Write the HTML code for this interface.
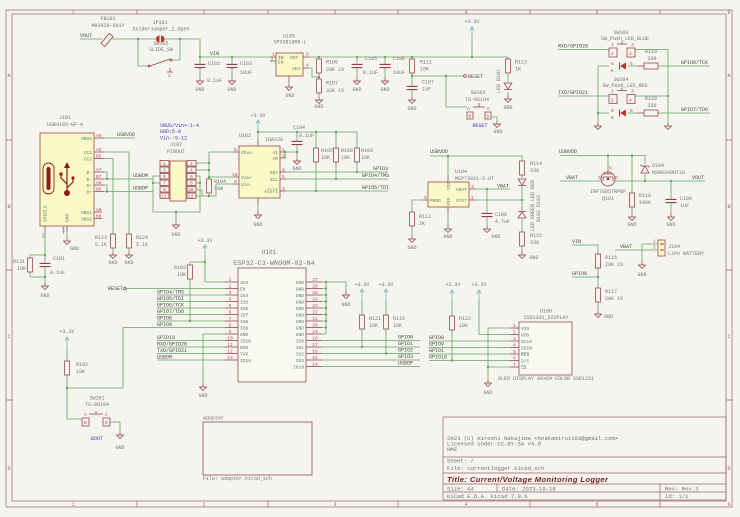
<!DOCTYPE html>
<html><head><meta charset="utf-8">
<style>
html,body{margin:0;padding:0;background:#f5f4ef}
svg{display:block}
.w{fill:none;stroke:#62a662;stroke-width:.8}
.s{fill:none;stroke:#934040;stroke-width:.75}
.b{fill:#fcf9c6;stroke:#934040;stroke-width:.75}
.bw{fill:#faf9f0;stroke:#934040;stroke-width:.75}
.fr{fill:none;stroke:#9e6262;stroke-width:.7}
text{font-family:"Liberation Mono",monospace;font-size:5px;fill:#767676}
.l{fill:#4a4a4a}
.n{fill:#bb4c4c;font-size:4.6px}
.m{fill:#567a7a;font-size:4.6px}
.bl{fill:#4040b8}
.ft{fill:#9e6262}
.t{text-anchor:middle}
.e{text-anchor:end}
.j{fill:#62a662}
.tb{font-size:5.6px;fill:#707070}
</style></head><body>
<svg width="740" height="517" viewBox="0 0 740 517" xmlns="http://www.w3.org/2000/svg">
<defs>
<g id="r"><rect x="-2.5" y="-7" width="5" height="14" class="s"/></g>
<g id="rh"><rect x="-7" y="-3" width="14" height="6" class="s"/></g>
<g id="c"><path d="M-5.5 -1.6H5.5M-5.5 1.6H5.5" fill="none" stroke="#934040" stroke-width="1.1"/></g>
<g id="g"><path d="M0 0V3M-3.5 3H3.5L0 6.5Z" class="s"/></g>
<g id="p"><path d="M0 0V10M-2.2 3.5L0 0L2.2 3.5" fill="none" stroke="#76b4b4" stroke-width=".8"/></g>
</defs>
<rect width="740" height="517" fill="#f5f4ef"/>

<!-- frame -->
<rect x="6" y="10" width="726" height="497" class="fr"/>
<rect x="12" y="14" width="714" height="487" class="fr"/>
<path class="fr" d="M137 10V14M268 10V14M398 10V14M530 10V14M660 10V14M137 501V507M268 501V507M398 501V507M530 501V507M660 501V507M6 140H12M6 270H12M6 400H12M726 140H732M726 270H732M726 400H732"/>
<g class="ft t">
<text class="ft t" x="73" y="14">1</text><text class="ft t" x="204" y="14">2</text><text class="ft t" x="335" y="14">3</text><text class="ft t" x="466" y="14">4</text><text class="ft t" x="597" y="14">5</text><text class="ft t" x="729" y="14">6</text>
<text class="ft t" x="73" y="506">1</text><text class="ft t" x="204" y="506">2</text><text class="ft t" x="335" y="506">3</text><text class="ft t" x="466" y="506">4</text><text class="ft t" x="597" y="506">5</text><text class="ft t" x="729" y="506">6</text>
<text class="ft t" x="9" y="77">A</text><text class="ft t" x="9" y="208">B</text><text class="ft t" x="9" y="338">C</text><text class="ft t" x="9" y="470">D</text>
<text class="ft t" x="729" y="77">A</text><text class="ft t" x="729" y="208">B</text><text class="ft t" x="729" y="338">C</text><text class="ft t" x="729" y="470">D</text>
</g>

<!-- ===== input / VIN ===== -->
<text class="t" x="108" y="20">FB101</text>
<text class="t" x="108" y="27">MH2029-601Y</text>
<text class="l" x="80" y="37">VOUT</text>
<path class="w" d="M80 39H102M112 39H156M164 39H200V57H270M138 39V66H149M180 39V60H171"/>
<rect x="-2.5" y="-6.5" width="5" height="13" class="s" transform="translate(107,40) rotate(40)"/>
<path d="M159.5 35.5A3.5 3.5 0 0 0 159.5 42.5Z" fill="#c23030"/>
<path d="M161 35.5A3.5 3.5 0 0 1 161 42.5Z" fill="#c23030"/>
<text class="t" x="160" y="24">JP101</text>
<text class="t" x="161" y="30.5">SolderJumper_2_Open</text>
<text class="t" x="161" y="45">SW105</text>
<text class="t" x="161" y="51">SLIDE_SW</text>
<path class="s" d="M150 66L170 59M170 68V72M167 72H173"/>
<circle cx="149" cy="66" r="1" class="s"/><circle cx="171" cy="60" r="1" class="s"/>
<text class="n" x="168" y="77">2</text>
<circle class="j" cx="138" cy="39" r="1.2"/><circle class="j" cx="180" cy="39" r="1.2"/>

<text class="l" x="210" y="55">VIN</text>
<path class="w" d="M200 57V64.4M200 67.6V78M232 57V64.4M232 67.6V78"/>
<use href="#c" x="200" y="66"/><use href="#c" x="232" y="66"/>
<use href="#g" x="200" y="78"/><use href="#g" x="232" y="78"/>
<circle class="j" cx="200" cy="57" r="1.2"/><circle class="j" cx="232" cy="57" r="1.2"/>
<text x="208" y="65">C102</text><text x="207" y="82">0.1uF</text><text class="t" x="200" y="91">GND</text>
<text x="240" y="65">C103</text><text x="240" y="74">10uF</text><text class="t" x="232" y="91">GND</text>

<!-- U105 -->
<text class="t" x="289" y="37.5">U105</text>
<text class="t" x="290" y="43.5">SPX3819M5-L</text>
<rect x="276" y="53" width="27" height="23" class="b"/>
<path class="s" d="M270 57H276M270 61H276M303 57H309M303 68H309M289 76V82"/>
<text class="m" x="278" y="59">IN</text><text class="m" x="278" y="63.5">EN</text>
<text class="m" x="290" y="59">OUT</text><text class="m" x="292" y="70">ADJ</text>
<text class="n" x="272" y="55.5">1</text><text class="n" x="306" y="55.5">5</text><text class="n" x="306" y="66.5">4</text>
<path class="w" d="M272 57V61H276M309 68H312V77H319"/>
<use href="#g" x="289" y="84"/><path class="w" d="M289 82V84"/>
<text class="t" x="290" y="97">GND</text>

<path class="w" d="M309 57H508"/>
<!-- R106/R107 -->
<path class="w" d="M319 57V59M319 73V79M319 93V97"/>
<use href="#r" x="319" y="66"/><use href="#r" x="319" y="86"/>
<use href="#g" x="319" y="97"/>
<circle class="j" cx="319" cy="57" r="1.2"/><circle class="j" cx="319" cy="77" r="1.2"/>
<text x="326" y="63.5">R106</text><text x="326" y="71">20K 1%</text>
<text x="326" y="84.5">R107</text><text x="326" y="92">32K 1%</text>
<text class="t" x="319" y="108">GND</text>
<!-- C105 / C106 -->
<path class="w" d="M357 57V64.4M357 67.6V78M385 57V64.4M385 67.6V78"/>
<use href="#c" x="357" y="66"/><use href="#c" x="385" y="66"/>
<use href="#g" x="357" y="78"/><use href="#g" x="385" y="78"/>
<circle class="j" cx="357" cy="57" r="1.2"/><circle class="j" cx="385" cy="57" r="1.2"/>
<text x="365" y="60">C105</text><text x="363" y="74">0.1uF</text><text class="t" x="357" y="91">GND</text>
<text x="393" y="60">C106</text><text x="393" y="74">10uF</text><text class="t" x="385" y="91">GND</text>
<!-- R111 / C107 / reset -->
<path class="w" d="M412 57V59M412 73V86.4M412 89.6V97M412 76H463M446 76V107H467"/>
<use href="#r" x="412" y="66"/><use href="#c" x="412" y="88"/><use href="#g" x="412" y="97"/>
<circle class="j" cx="412" cy="57" r="1.2"/><circle class="j" cx="412" cy="76" r="1.2"/><circle class="j" cx="446" cy="76" r="1.2"/>
<text x="420" y="63.5">R111</text><text x="420" y="70.5">10K</text>
<text x="422" y="83.5">C107</text><text x="422" y="90.5">1uF</text>
<text class="t" x="412" y="110">GND</text>
<circle cx="465" cy="76" r="1.4" class="s"/>
<text class="l" x="468" y="78">RESET</text>
<!-- +3.3V top -->
<text class="t" x="472" y="23">+3.3V</text>
<use href="#p" x="472" y="27"/>
<path class="w" d="M472 37V57"/>
<circle class="j" cx="472" cy="57" r="1.2"/>
<!-- R113 / D101 -->
<path class="w" d="M508 57V59M508 73V82M508 92V96"/>
<use href="#r" x="508" y="66"/>
<path class="s" d="M504 83H512L508 89ZM504 89.5H512"/>
<use href="#g" x="508" y="96"/>
<text x="515" y="63.5">R113</text><text x="515" y="70.5">1K</text>
<text transform="translate(500,93) rotate(-90)">LED D101</text>
<text class="t" x="508" y="109">GND</text>
<!-- SW102 -->
<text class="t" x="478" y="94">SW102</text>
<text class="t" x="477" y="101">TS-06104</text>
<rect x="467" y="112" width="6" height="7" class="s"/><rect x="485" y="112" width="6" height="7" class="s"/>
<text class="n" x="468.5" y="117.5">B</text><text class="n" x="486.5" y="117.5">D</text>
<text class="n" x="467" y="110">A</text><text class="n" x="487" y="110">C</text>
<path class="s" d="M473 107H485M479 103V107"/>
<path class="w" d="M491 117H497V121"/>
<use href="#g" x="497" y="121"/>
<text class="t" x="498" y="133">GND</text>
<text class="bl t" x="480" y="127">RESET</text>

<!-- ===== top right SW103 / SW104 ===== -->
<text class="t" x="621" y="34">SW103</text>
<text class="t" x="625" y="40">SW_Push_LED_BLUE</text>
<text class="l" x="558" y="47.5">RXD/GPIO20</text>
<path class="w" d="M558 49.5H609M635 49.5H668V123M598 66H609M628 66H637M658 66H710M598 66V123"/>
<rect x="609" y="48" width="8" height="9" class="s"/><rect x="627" y="48" width="8" height="9" class="s"/>
<text class="n" x="611" y="55">2</text><text class="n" x="629" y="55">4</text>
<text class="n" x="611" y="46">1</text><text class="n" x="631" y="46">3</text>
<path class="s" d="M617 44H627M622 41V44M637 66H644"/>
<text class="n" x="611" y="65">6</text><text class="n" x="630" y="65">5</text>
<polygon points="626,62.5 626,69.5 620,66" fill="#c83030"/><path d="M619.5 62.5V69.5" stroke="#c83030" stroke-width="1"/>
<text class="n" x="611" y="72">K</text>
<use href="#rh" x="651" y="66"/>
<text class="t" x="651" y="53">R119</text><text class="t" x="652" y="60">330</text>
<text class="l" x="681" y="64">GPIO6/TCK</text>

<text class="t" x="621" y="81">SW104</text>
<text class="t" x="625" y="87">SW_Push_LED_RED</text>
<text class="l" x="558" y="94">TXD/GPIO21</text>
<path class="w" d="M558 96H609M635 96H668M598 113H609M628 113H637M658 113H710"/>
<rect x="609" y="94.5" width="8" height="9" class="s"/><rect x="627" y="94.5" width="8" height="9" class="s"/>
<text class="n" x="611" y="101.5">2</text><text class="n" x="629" y="101.5">4</text>
<text class="n" x="611" y="92.5">1</text><text class="n" x="631" y="92.5">3</text>
<path class="s" d="M617 90.5H627M622 87.5V90.5M637 113H644"/>
<text class="n" x="611" y="112">6</text><text class="n" x="630" y="112">5</text>
<polygon points="626,109.5 626,116.5 620,113" fill="#c83030"/><path d="M619.5 109.5V116.5" stroke="#c83030" stroke-width="1"/>
<text class="n" x="611" y="119">K</text>
<use href="#rh" x="651" y="113"/>
<text class="t" x="651" y="100">R120</text><text class="t" x="652" y="107">330</text>
<text class="l" x="681" y="111">GPIO7/TDO</text>
<circle class="j" cx="668" cy="96" r="1.2"/><circle class="j" cx="598" cy="113" r="1.2"/>
<use href="#g" x="598" y="123"/><use href="#g" x="668" y="123"/>

<!-- ===== J101 USB-C ===== -->
<text class="t" x="65" y="119">J101</text>
<text class="t" x="65" y="126">USB4105-GF-A</text>
<rect x="40" y="133" width="54" height="93" class="b"/>
<path class="s" d="M94 138H104M94 152H104M94 158.5H104M94 172H104M94 179H104M94 185H104M94 191.5H104M94 212H102M94 218.5H102M45 226V232M67 226V232"/>
<g class="m">
<text class="m e" x="92" y="140">VBUS</text><text class="m e" x="92" y="154">CC1</text><text class="m e" x="92" y="160.5">CC2</text>
<text class="m e" x="92" y="174">D-</text><text class="m e" x="92" y="181">D-</text><text class="m e" x="92" y="187">D+</text><text class="m e" x="92" y="193.5">D+</text>
<text class="m e" x="92" y="214">SBU1</text><text class="m e" x="92" y="220.5">SBU2</text>
</g>
<text class="n" x="96" y="137">A9</text><text class="n" x="96" y="151">A5</text><text class="n" x="96" y="157.5">B5</text>
<text class="n" x="96" y="171">A7</text><text class="n" x="96" y="178">B7</text><text class="n" x="96" y="184">A6</text><text class="n" x="96" y="190.5">B6</text>
<text class="n" x="96" y="211">A8</text><text class="n" x="96" y="217.5">B8</text>
<rect x="43" y="163" width="11" height="31" rx="5.5" fill="none" stroke="#8c2020" stroke-width=".9"/>
<rect x="46.5" y="167" width="4" height="23" rx="2" fill="#8c1a1a"/>
<path d="M67 167V191M67 184L61 178V175M67 188L73 182V179" fill="none" stroke="#8c1a1a" stroke-width="1.2"/>
<polygon points="67,162 64,168 70,168" fill="#8c1a1a"/>
<rect x="59.5" y="172.5" width="3" height="3" fill="#8c1a1a"/>
<circle cx="73" cy="178" r="1.6" fill="#8c1a1a"/>
<circle cx="67" cy="193" r="3" fill="#8c1a1a"/>
<text transform="translate(46.5,222) rotate(-90)" class="m">SHIELD</text>
<text transform="translate(68.5,222) rotate(-90)" class="m">GND</text>
<text transform="translate(45,238) rotate(-90)" class="n">S1</text>
<path d="M62 228H65M62 231H65M63.5 227V234" stroke="#5a6ab0" stroke-width=".6"/>
<path class="w" d="M104 138H135M104 152H129V234M104 158.5H113V234M104 172H107V179M104 179H153M104 185H107V191.5M104 191.5H153"/>
<circle class="j" cx="107" cy="179" r="1.2"/><circle class="j" cx="107" cy="191.5" r="1.2"/>
<text class="l" x="117" y="136">USBVDD</text>
<text class="l" x="133" y="177">USBDM</text>
<text class="l" x="133" y="189.5">USBDP</text>
<use href="#r" x="113" y="241"/><use href="#r" x="129" y="241"/>
<path class="w" d="M113 248V252M129 248V252"/>
<use href="#g" x="113" y="252"/><use href="#g" x="129" y="252"/>
<text x="95" y="239">R123</text><text x="95" y="246">5.1K</text>
<text x="136" y="239">R124</text><text x="136" y="246">5.1K</text>
<text class="t" x="113" y="264">GND</text><text class="t" x="129" y="264">GND</text>
<path class="w" d="M67 232V238M45 232V263.4M45 266.6V283M30 255H45M30 277H45M30 255V258M30 272V277"/>
<use href="#g" x="67" y="238"/>
<text x="70" y="250">GND</text>
<use href="#c" x="45" y="265"/><use href="#r" x="30" y="265"/>
<circle class="j" cx="45" cy="255" r="1.2"/><circle class="j" cx="45" cy="277" r="1.2"/>
<use href="#g" x="45" y="283"/>
<text x="53" y="260">C101</text><text x="50" y="274">0.1uF</text>
<text x="13" y="263">R131</text><text x="17" y="270">10K</text>
<text class="t" x="45" y="297">GND</text>

<!-- ===== J102 ===== -->
<text class="bl" x="160" y="127">VBUS/Vin+:1-4</text>
<text class="bl" x="160" y="133">GND:5-8</text>
<text class="bl" x="160" y="139.5">Vin-:9-12</text>
<text class="t" x="176" y="146">J102</text>
<text class="t" x="176" y="153">PINOUT</text>
<rect x="170" y="161" width="16" height="40" class="b"/>
<g>
<rect x="160" y="160.5" width="9" height="5.5" class="s"/><rect x="160" y="167" width="9" height="5.5" class="s"/><rect x="160" y="173.5" width="9" height="5.5" class="s"/><rect x="160" y="180" width="9" height="5.5" class="s"/><rect x="160" y="186.5" width="9" height="5.5" class="s"/><rect x="160" y="193" width="9" height="5.5" class="s"/>
<rect x="187" y="160.5" width="9" height="5.5" class="s"/><rect x="187" y="167" width="9" height="5.5" class="s"/><rect x="187" y="173.5" width="9" height="5.5" class="s"/><rect x="187" y="180" width="9" height="5.5" class="s"/><rect x="187" y="186.5" width="9" height="5.5" class="s"/><rect x="187" y="193" width="9" height="5.5" class="s"/>
</g>
<text class="n" x="163" y="165">1</text><text class="n" x="163" y="171.5">3</text><text class="n" x="163" y="178">5</text><text class="n" x="163" y="184.5">7</text><text class="n" x="163" y="191">9</text><text class="n" x="161" y="197.5">11</text>
<text class="n" x="190" y="165">2</text><text class="n" x="190" y="171.5">4</text><text class="n" x="190" y="178">6</text><text class="n" x="190" y="184.5">8</text><text class="n" x="188" y="191">10</text><text class="n" x="188" y="197.5">12</text>
<path class="w" d="M160 176H153V212H200V176H196M160 183H153M196 183H200M176 212V222M196 163H209M196 170H209M196 190H202V196M196 196H209M209 152V179M209 193V196M209 152H233M209 177H233M209 196H216V184H233"/>
<circle class="j" cx="153" cy="183" r="1.2"/><circle class="j" cx="200" cy="183" r="1.2"/><circle class="j" cx="176" cy="212" r="1.2"/>
<circle class="j" cx="209" cy="163" r="1.2"/><circle class="j" cx="209" cy="170" r="1.2"/><circle class="j" cx="209" cy="177" r="1.2"/><circle class="j" cx="209" cy="196" r="1.2"/>
<use href="#r" x="209" y="186"/>
<use href="#g" x="176" y="222"/>
<text class="t" x="176" y="236">GND</text>
<text x="214" y="183">R104</text><text x="214" y="190">10m</text>

<!-- ===== U102 INA228 ===== -->
<text x="239" y="137">U102</text>
<text x="265" y="141">INA228</text>
<text class="t" x="258" y="117">+3.3V</text>
<use href="#p" x="258" y="120"/>
<rect x="239" y="146" width="41" height="52" class="b"/>
<path class="s" d="M233 152H239M233 177H239M233 184H239M280 152H286M280 158H286M280 172H286M280 179H286M280 191H286M258 140V146M258 198V204"/>
<text class="m" x="241" y="154">Vbus</text><text class="m" x="241" y="179">Vin+</text><text class="m" x="241" y="186">Vin-</text>
<text class="m e" x="278" y="154">A1</text><text class="m e" x="278" y="160">A0</text>
<text class="m e" x="278" y="174">SDA</text><text class="m e" x="278" y="181">SCL</text><text class="m e" x="278" y="193">Alert</text>
<path d="M267 189H278" stroke="#567a7a" stroke-width=".4"/>
<text class="n" x="234" y="151">8</text><text class="n" x="232" y="176">10</text><text class="n" x="234" y="183">9</text>
<text class="n" x="282" y="151">1</text><text class="n" x="282" y="157">2</text><text class="n" x="282" y="171">4</text><text class="n" x="282" y="178">5</text><text class="n" x="282" y="190">3</text>
<path class="w" d="M258 130V140M258 132H357V148M286 152H297M285 152V158H286M297 132V141.4M297 144.6V158M316 132V148M316 162V191M336 132V148M336 162V179M357 162V172M258 204V212M286 172H388M286 179H388M286 191H388"/>
<use href="#c" x="297" y="143"/>
<use href="#g" x="297" y="158"/>
<use href="#g" x="258" y="212"/>
<circle class="j" cx="258" cy="132" r="1.2"/><circle class="j" cx="297" cy="132" r="1.2"/><circle class="j" cx="316" cy="132" r="1.2"/><circle class="j" cx="336" cy="132" r="1.2"/>
<circle class="j" cx="285" cy="152" r="1.2"/><circle class="j" cx="297" cy="152" r="1.2"/>
<circle class="j" cx="357" cy="172" r="1.2"/><circle class="j" cx="336" cy="179" r="1.2"/><circle class="j" cx="316" cy="191" r="1.2"/>
<use href="#r" x="316" y="155"/><use href="#r" x="336" y="155"/><use href="#r" x="357" y="155"/>
<text x="293" y="129">C104</text><text x="299" y="137">0.1uF</text>
<text class="t" x="297" y="170">GND</text>
<text class="t" x="258" y="226">GND</text>
<text x="321" y="152">R105</text><text x="321" y="159">10K</text>
<text x="341" y="152">R108</text><text x="341" y="159">10K</text>
<text x="361" y="152">R109</text><text x="361" y="159">10K</text>
<text class="l" x="373" y="170">GPIO3</text>
<text class="l" x="362" y="177">GPIO4/TMS</text>
<text class="l" x="362" y="189">GPIO5/TDI</text>

<!-- ===== U104 charger ===== -->
<text class="l" x="430" y="153">USBVDD</text>
<path class="w" d="M430 156H522V161M448 156V176M475 189H510M487 189V213.4M487 216.6V226M475 200H522M422 200H412V212M412 226V236M448 213V226M522 175V178M522 186V211M522 219V232M522 246V252"/>
<circle class="j" cx="448" cy="156" r="1.2"/><circle class="j" cx="487" cy="189" r="1.2"/><circle class="j" cx="522" cy="200" r="1.2"/>
<text x="455" y="173">U104</text>
<text x="455" y="180">MCP73831-2-OT</text>
<rect x="428" y="182" width="41" height="25" class="b"/>
<path class="s" d="M448 176V182M448 207V213M469 189H475M469 200H475M422 200H428"/>
<text class="m e" x="467" y="191">VBAT</text><text class="m e" x="467" y="202">STAT</text><text class="m" x="430" y="202">PROG</text>
<text transform="translate(450,190) rotate(-90)" class="m">VDD</text>
<text transform="translate(450,206) rotate(-90)" class="m">VSS</text>
<text class="n" x="471" y="188">3</text><text class="n" x="471" y="199">1</text><text class="n" x="424" y="199">5</text>
<text class="l" x="497" y="187.5">VBAT</text>
<use href="#c" x="487" y="215"/><use href="#g" x="487" y="226"/>
<text x="495" y="216">C108</text><text x="495" y="223">4.7uF</text>
<text class="t" x="496" y="238">GND</text>
<use href="#r" x="412" y="219"/><use href="#g" x="412" y="236"/>
<text x="419" y="218">R112</text><text x="419" y="225">2K</text>
<text class="t" x="412" y="249">GND</text>
<use href="#g" x="448" y="226"/>
<text class="t" x="448" y="238">GND</text>
<use href="#r" x="522" y="168"/>
<text x="530" y="165">R114</text><text x="530" y="172">330</text>
<path class="s" d="M518 179H526L522 185ZM518 185.5H526M518 218H526L522 212ZM518 211.5H526"/>
<text transform="translate(534,231) rotate(-90)">LED GREEN LED RED</text>
<text transform="translate(540,222) rotate(-90)">D102  D103</text>
<use href="#r" x="522" y="239"/>
<text x="530" y="237">R115</text><text x="530" y="244">330</text>
<use href="#g" x="522" y="252"/>
<text class="t" x="534" y="259">GND</text>

<!-- ===== right: Q101 etc ===== -->
<text class="l" x="559" y="153">USBVDD</text>
<path class="w" d="M560 155.5H645V164M608 155.5V170M632 155.5V193M632 207V214M560 181H601M615 181H705M645 174V181M671 181V199.4M671 202.6V214"/>
<circle class="j" cx="608" cy="155.5" r="1.2"/><circle class="j" cx="632" cy="155.5" r="1.2"/>
<circle class="j" cx="645" cy="181" r="1.2"/><circle class="j" cx="671" cy="181" r="1.2"/>
<circle cx="608" cy="179" r="7" class="s"/>
<path class="s" d="M608 170V174M603 177H613M603 177V181M613 177V181M604 174H612"/>
<polygon points="608,177 606,180 610,180" fill="#934040"/>
<text class="n" x="598" y="179">S</text><text class="n" x="615" y="179">D</text><text class="n" x="609" y="169">G</text>
<text class="l" x="566" y="179">VBAT</text>
<text class="l" x="692" y="179">VOUT</text>
<text class="t" x="608" y="193">IRF7605TRPBF</text>
<text class="t" x="608" y="200">Q101</text>
<path class="s" d="M641 173H649L645 166ZM641 166H649M641 166V164.5M649 166V167.5"/>
<text x="652" y="167">D104</text><text x="652" y="174">NSR0340HT1G</text>
<use href="#r" x="632" y="200"/><use href="#g" x="632" y="214"/>
<text x="639" y="197">R118</text><text x="639" y="204">100K</text>
<text class="t" x="632" y="226">GND</text>
<use href="#c" x="671" y="201"/><use href="#g" x="671" y="214"/>
<text x="680" y="200">C109</text><text x="680" y="207">1uF</text>
<text class="t" x="671" y="226">GND</text>

<text class="l" x="572" y="243">VIN</text>
<text class="l" x="572" y="275">GPIO0</text>
<path class="w" d="M572 245H598V254M598 268V288M572 277H598M598 302V311"/>
<circle class="j" cx="598" cy="277" r="1.2"/>
<use href="#r" x="598" y="261"/><use href="#r" x="598" y="295"/><use href="#g" x="598" y="311"/>
<text x="605" y="259">R116</text><text x="605" y="266">20K 1%</text>
<text x="605" y="293">R117</text><text x="605" y="300">20K 1%</text>
<text x="604" y="318">GND</text>
<rect x="658" y="240" width="7" height="16" class="b"/>
<path d="M660 244H664M660 250H664" stroke="#934040" stroke-width="1"/>
<path class="w" d="M642 244H658M642 244V262M615 250H658"/>
<text class="n" x="653" y="242.5">1</text><text class="n" x="653" y="248.5">2</text>
<use href="#g" x="642" y="262"/>
<text class="t" x="642" y="276">GND</text>
<text class="l" x="620" y="248">VBAT</text>
<text x="668" y="248">J104</text><text x="668" y="255">LiPo BATTERY</text>

<!-- ===== ESP32 U101 ===== -->
<text class="t" x="269" y="254" style="font-size:6px">U101</text>
<text class="t" x="274" y="265" style="font-size:6.8px">ESP32-C3-WROOM-02-N4</text>
<rect x="238" y="268" width="68" height="114" class="bw"/>
<path class="s" d="M225 282H238M225 288.5H238M225 295H238M225 301.5H238M225 308H238M225 314.5H238M225 321H238M225 327.5H238M225 334H238M225 340.5H238M225 347H238M225 353.5H238M225 360H238"/>
<path class="s" d="M306 282H322M306 288.5H322M306 295H322M306 301.5H322M306 308H322M306 314.5H322M306 321H322M306 327.5H322M306 334H322M306 340.5H322M306 347H322M306 353.5H322M306 360H322M306 366.5H322"/>
<g>
<text class="n t" x="230" y="281">1</text><text class="n t" x="230" y="287.5">2</text><text class="n t" x="230" y="294">3</text><text class="n t" x="230" y="300.5">4</text><text class="n t" x="230" y="307">5</text><text class="n t" x="230" y="313.5">6</text><text class="n t" x="230" y="320">7</text><text class="n t" x="230" y="326.5">8</text><text class="n t" x="230" y="333">9</text><text class="n t" x="230" y="339.5">10</text><text class="n t" x="230" y="346">11</text><text class="n t" x="230" y="352.5">12</text><text class="n t" x="230" y="359">13</text>
<text class="m" x="240" y="284">3V3</text><text class="m" x="240" y="290.5">EN</text><text class="m" x="240" y="297">IO4</text><text class="m" x="240" y="303.5">IO5</text><text class="m" x="240" y="310">IO6</text><text class="m" x="240" y="316.5">IO7</text><text class="m" x="240" y="323">IO8</text><text class="m" x="240" y="329.5">IO9</text><text class="m" x="240" y="336">GND</text><text class="m" x="240" y="342.5">IO10</text><text class="m" x="240" y="349">RXD</text><text class="m" x="240" y="355.5">TXD</text><text class="m" x="240" y="362">IO18</text>
<text class="n t" x="315" y="281">27</text><text class="n t" x="315" y="287.5">26</text><text class="n t" x="315" y="294">25</text><text class="n t" x="315" y="300.5">24</text><text class="n t" x="315" y="307">23</text><text class="n t" x="315" y="313.5">22</text><text class="n t" x="315" y="320">21</text><text class="n t" x="315" y="326.5">20</text><text class="n t" x="315" y="333">19</text><text class="n t" x="315" y="339.5">18</text><text class="n t" x="315" y="346">17</text><text class="n t" x="315" y="352.5">16</text><text class="n t" x="315" y="359">15</text><text class="n t" x="315" y="365.5">14</text>
<text class="m e" x="304" y="284">GND</text><text class="m e" x="304" y="290.5">GND</text><text class="m e" x="304" y="297">GND</text><text class="m e" x="304" y="303.5">GND</text><text class="m e" x="304" y="310">GND</text><text class="m e" x="304" y="316.5">GND</text><text class="m e" x="304" y="323">GND</text><text class="m e" x="304" y="329.5">GND</text><text class="m e" x="304" y="336">GND</text><text class="m e" x="304" y="342.5">IO0</text><text class="m e" x="304" y="349">IO1</text><text class="m e" x="304" y="355.5">IO2</text><text class="m e" x="304" y="362">IO3</text><text class="m e" x="304" y="368.5">IO19</text>
</g>
<path class="w" d="M322 282H346V292M326 282V334M322 288.5H326M322 295H326M322 301.5H326M322 308H326M322 314.5H326M322 321H326M322 327.5H326M322 334H326M322 340.5H420M322 347H420M322 353.5H420M322 360H420M322 366.5H420"/>
<circle class="j" cx="326" cy="282" r="1.2"/><circle class="j" cx="326" cy="288.5" r="1.2"/><circle class="j" cx="326" cy="295" r="1.2"/><circle class="j" cx="326" cy="301.5" r="1.2"/><circle class="j" cx="326" cy="308" r="1.2"/><circle class="j" cx="326" cy="314.5" r="1.2"/><circle class="j" cx="326" cy="321" r="1.2"/><circle class="j" cx="326" cy="327.5" r="1.2"/>
<use href="#g" x="346" y="292"/>
<text class="t" x="346" y="306">GND</text>
<text class="l" x="398" y="338.5">GPIO0</text><text class="l" x="398" y="345">GPIO1</text><text class="l" x="398" y="351.5">GPIO2</text><text class="l" x="398" y="358">GPIO3</text><text class="l" x="398" y="364.5">USBDP</text>
<text class="t" x="362" y="286">+3.3V</text><text class="t" x="386" y="286">+3.3V</text>
<use href="#p" x="362" y="289"/><use href="#p" x="386" y="289"/>
<path class="w" d="M362 299V315M362 329V347M386 299V315M386 329V353.5"/>
<use href="#r" x="362" y="322"/><use href="#r" x="386" y="322"/>
<circle class="j" cx="362" cy="347" r="1.2"/><circle class="j" cx="386" cy="353.5" r="1.2"/>
<text x="369" y="320">R121</text><text x="369" y="327">10K</text>
<text x="393" y="320">R115</text><text x="393" y="327">10K</text>

<!-- left side of ESP -->
<text class="t" x="205" y="242">+3.3V</text>
<use href="#p" x="205" y="245"/>
<path class="w" d="M205 255V282H225M190 262H205M190 262V265M190 279V321M125 288.5H225M157 295H225M157 301.5H225M157 308H225M157 314.5H225M157 321H225M123 327.5H225M225 334H203V384M157 340.5H225M157 347H225M157 353.5H225M157 360H225M123 327.5V388H67"/>
<circle class="j" cx="205" cy="262" r="1.2"/><circle class="j" cx="190" cy="321" r="1.2"/>
<use href="#r" x="190" y="272"/>
<text x="174" y="269">R103</text><text x="177" y="276">10K</text>
<text class="l" x="108" y="290">RESET</text>
<circle cx="125" cy="288.5" r="1.3" class="s"/>
<text class="l" x="157" y="293.5">GPIO4/TMS</text><text class="l" x="157" y="300">GPIO5/TDI</text><text class="l" x="157" y="306.5">GPIO6/TCK</text><text class="l" x="157" y="313">GPIO7/TDO</text><text class="l" x="157" y="319.5">GPIO8</text><text class="l" x="157" y="326">GPIO9</text>
<text class="l" x="157" y="339">GPIO10</text><text class="l" x="157" y="345.5">RXD/GPIO20</text><text class="l" x="157" y="352">TXD/GPIO21</text><text class="l" x="157" y="358.5">USBDM</text>
<use href="#g" x="203" y="384"/>
<text class="t" x="203" y="397">GND</text>

<!-- SW101 boot -->
<text class="t" x="67" y="333">+3.3V</text>
<use href="#p" x="67" y="337"/>
<path class="w" d="M67 347V361M67 375V419H82M110 422H120V432"/>
<use href="#r" x="67" y="368"/>
<circle class="j" cx="67" cy="388" r="1.2"/>
<text x="76" y="366">R102</text><text x="76" y="373">10K</text>
<text class="t" x="97" y="399.5">SW101</text>
<text class="t" x="97" y="406">TS-06104</text>
<rect x="82" y="418" width="7" height="8" class="s"/><rect x="103" y="418" width="7" height="8" class="s"/>
<text class="n" x="84" y="424">B</text><text class="n" x="105" y="424">D</text>
<text class="n" x="84" y="416">A</text><text class="n" x="105" y="416">C</text>
<path class="s" d="M89 414H103M96 411V414"/>
<use href="#g" x="120" y="432"/>
<text class="t" x="120" y="449">GND</text>
<text class="bl t" x="97" y="440">BOOT</text>

<!-- Adapter sheet -->
<text x="203" y="419.5">Adapter</text>
<rect x="203" y="422" width="109" height="53" class="s"/>
<text x="203" y="480">File: adapter.kicad_sch</text>

<!-- ===== U106 display ===== -->
<text class="t" x="453" y="286">+3.3V</text><text class="t" x="479" y="286">+3.3V</text>
<use href="#p" x="452" y="290"/><use href="#p" x="479" y="290"/>
<path class="w" d="M452 300V316M452 330V360M479 300V334.5H510M510 328H488V380M488 367H510M429 341H510M429 347.5H510M429 354H510M429 360.5H510"/>
<use href="#r" x="452" y="323"/>
<circle class="j" cx="452" cy="360.5" r="1.2"/><circle class="j" cx="488" cy="367" r="1.2"/>
<text x="459" y="320">R122</text><text x="459" y="327">10K</text>
<text class="l" x="429" y="339">GPIO8</text><text class="l" x="429" y="345.5">GPIO9</text><text class="l" x="429" y="352">GPIO1</text><text class="l" x="429" y="358.5">GPIO10</text>
<use href="#g" x="488" y="380"/>
<text class="t" x="488" y="394">GND</text>
<text class="t" x="546" y="312.5">U106</text>
<text class="t" x="546" y="319">SSD1331_DISPLAY</text>
<rect x="519" y="322" width="53" height="53" class="bw"/>
<path class="s" d="M510 328H519M510 334.5H519M510 341H519M510 347.5H519M510 354H519M510 360.5H519M510 367H519"/>
<text class="n" x="513" y="327">1</text><text class="n" x="513" y="333.5">2</text><text class="n" x="513" y="340">3</text><text class="n" x="513" y="346.5">4</text><text class="n" x="513" y="353">5</text><text class="n" x="513" y="359.5">6</text><text class="n" x="513" y="366">7</text>
<text class="m" x="521" y="330">VSS</text><text class="m" x="521" y="336.5">VDD</text><text class="m" x="521" y="343">SCLK</text><text class="m" x="521" y="349.5">SDIN</text><text class="m" x="521" y="356">RES</text><text class="m" x="521" y="362.5">D/C</text><text class="m" x="521" y="369">CS</text>
<path d="M521 352.5H529M521 365.5H526" stroke="#567a7a" stroke-width=".4"/>
<text x="498" y="380">OLED DISPLAY 96x64 COLOR SSD1331</text>

<!-- ===== title block ===== -->
<rect x="443" y="417" width="283" height="83" class="fr"/>
<path class="fr" d="M443 457H726M443 473H726M443 484H726M443 492H726M497 484V492M660 484V500"/>
<text class="tb" x="447" y="440">2023 (C) Hiroshi Nakajima &lt;hnakamiru1103@gmail.com&gt;</text>
<text class="tb" x="447" y="445.5">Licensed under CC-BY-SA V4.0</text>
<text class="tb" x="447" y="451">HMZ</text>
<text class="tb" x="447" y="462.5">Sheet: /</text>
<text class="tb" x="447" y="470">File: currentlogger.kicad_sch</text>
<text x="447" y="482" textLength="161" style="font-family:'Liberation Sans',sans-serif;font-size:7.6px;font-weight:bold;font-style:italic;fill:#7a1a1a">Title: Current/Voltage Monitoring Logger</text>
<text class="tb" x="447" y="490.5">Size: A4</text>
<text class="tb" x="502" y="490.5">Date: 2023-10-18</text>
<text class="tb" x="665" y="490.5">Rev: Rev.3</text>
<text class="tb" x="447" y="498">KiCad E.D.A.  kicad 7.0.6</text>
<text class="tb" x="665" y="498">Id: 1/1</text>
</svg>
</body></html>
